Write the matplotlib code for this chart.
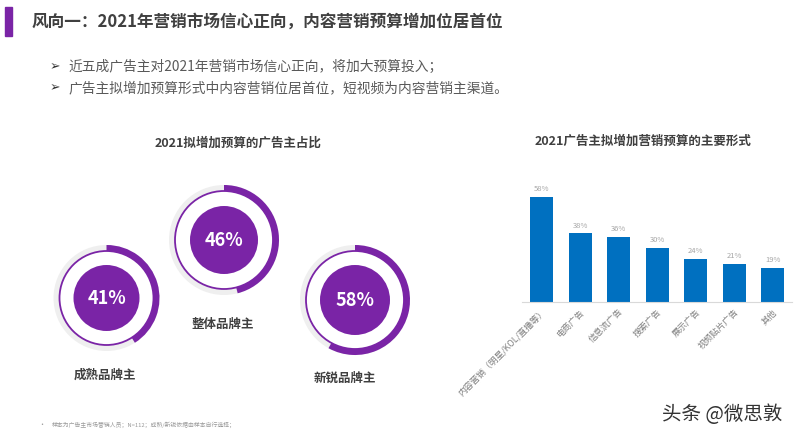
import numpy as np
import matplotlib.pyplot as plt
from matplotlib.patches import Wedge, Circle, Rectangle

plt.rcParams['font.family'] = ['Noto Sans CJK SC', 'DejaVu Sans']

# data
title = "风向一：2021年营销市场信心正向，内容营销预算增加位居首位"
bullets = ["近五成广告主对2021年营销市场信心正向，将加大预算投入；",
           "广告主拟增加预算形式中内容营销位居首位，短视频为内容营销主渠道。"]
donut_title = "2021拟增加预算的广告主占比"
donut_names = ["成熟品牌主", "整体品牌主", "新锐品牌主"]
donut_values = [41, 46, 58]

bar_title = "2021广告主拟增加营销预算的主要形式"
bar_labels = ["内容营销（明星/KOL/直播等）", "电商广告", "信息流广告", "搜索广告",
              "展示广告", "视频贴片广告", "其他"]
bar_values = [58, 38, 36, 30, 24, 21, 19]

note = "样本为广告主市场营销人员；N=112；成熟/新锐依据由样本自行选择；"
watermark = "头条 @微思敦"

purple = "#7a24a6"
blue = "#0070c0"
dark = "#404040"
grey = "#595959"

fig = plt.figure(figsize=(8, 4.37), dpi=100)

# overlay axes in pixel coords
ov = fig.add_axes([0, 0, 1, 1])
ov.set_xlim(0, 800)
ov.set_ylim(437, 0)
ov.axis("off")

# header
ov.add_patch(Rectangle((5, 7), 7, 29, color=purple))
ov.text(32, 22, title, fontsize=12, fontweight="bold", color=dark, va="center")
for i, b in enumerate(bullets):
    y = 67 + i * 21
    ov.text(50, y, "➢", fontsize=9, color="#333333", va="center", family=["DejaVu Sans"])
    ov.text(68, y, b, fontsize=9.9, color=grey, va="center")

# donuts
ov.text(238, 143, donut_title, fontsize=9, fontweight="bold", color=dark, ha="center", va="center")
centers = [(106.5, 298), (224, 240), (355, 300)]
radii = [53, 55, 55]
inner = [33, 34, 35]
label_pos = [(105, 375), (223, 324), (345, 378)]
for (cx, cy), R, r, v, name, (lx, ly) in zip(centers, radii, inner, donut_values, donut_names, label_pos):
    # grey track
    ov.add_patch(Wedge((cx, cy), R, 0, 360, width=6, color="#efefef", lw=0))
    # progress arc, clockwise from top (y axis inverted)
    ov.add_patch(Wedge((cx, cy), R, -90, -90 + v / 100 * 360, width=6, color=purple, lw=0))
    ov.add_patch(Circle((cx, cy), R - 6, fill=False, ec=purple, lw=1.3))
    ov.add_patch(Circle((cx, cy), r, color=purple, lw=0))
    ov.text(cx, cy, f"{v}%", fontsize=13, fontweight="bold", color="white", ha="center", va="center")
    ov.text(lx, ly, name, fontsize=9, fontweight="bold", color=dark, ha="center", va="center")

# bar chart title
ov.text(643, 141, bar_title, fontsize=9, fontweight="bold", color=dark, ha="center", va="center")

# footer
ov.text(38, 425, "•", fontsize=5, color="#999999", va="center")
ov.text(52, 425, note, fontsize=4.2, color="#999999", va="center")
ov.text(662, 414, watermark, fontsize=14, color="#333333", va="center")

# bar chart
px = 1.81
ymax = 65
ax = fig.add_axes([522 / 800, (437 - 302) / 437, 270 / 800, ymax * px / 437])
x = np.arange(len(bar_values))
ax.bar(x, bar_values, width=0.6, color=blue)
ax.set_xlim(-0.51, 6.5)
ax.set_ylim(0, ymax)
for xi, v in zip(x, bar_values):
    ax.text(xi, v + 2, f"{v}%", fontsize=5.5, color="#a6a6a6", ha="center", va="bottom")
for s in ["top", "right", "left"]:
    ax.spines[s].set_visible(False)
ax.spines["bottom"].set_color("#d9d9d9")
ax.spines["bottom"].set_linewidth(0.8)
ax.set_yticks([])
ax.set_xticks(x)
ax.set_xticklabels(bar_labels, rotation=45, ha="right", va="top", rotation_mode="anchor",
                   fontsize=6.3, color="#7f7f7f")
ax.tick_params(axis="x", length=0, pad=4)
ax.patch.set_alpha(0)

fig.savefig("out.png", dpi=100)
